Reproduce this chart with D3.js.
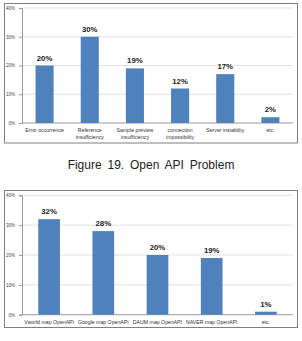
<!DOCTYPE html>
<html>
<head>
<meta charset="utf-8">
<script src="https://cdn.jsdelivr.net/npm/d3@7"></script>
<style>
  body { margin: 0; background: #fff; }
  svg { display: block; }
</style>
</head>
<body>
<div id="chart"></div>
<script>
// chart 1: open API problems
const problemCategories = [["Error occurrence"], ["Reference", "insufficiency"], ["Sample preview", "insufficiency"], ["connection", "impossibility"], ["Server instability"], ["etc."]];
const problemValues = [20, 30, 19, 12, 17, 2];

// chart 2: open API used
const apiCategories = [["Vworld map OpenAPI"], ["Google map OpenAPI"], ["DAUM map OpenAPI"], ["NAVER map OpenAPI"], ["etc."]];
const apiValues = [32, 28, 20, 19, 1];

const yTicks = [0, 10, 20, 30, 40];
const caption = "Figure 19. Open API Problem";

const barColor = "#4F81BD";

const svg = d3.select("#chart")
    .append("svg")
    .attr("width", 302)
    .attr("height", 341);

function drawChart(cfg) {
    const g = svg.append("g");

    // outer frame
    g.append("rect")
        .attr("x", cfg.box.x)
        .attr("y", cfg.box.y)
        .attr("width", cfg.box.w)
        .attr("height", cfg.box.h)
        .attr("fill", "#fff")
        .attr("stroke", "#7f7f7f")
        .attr("stroke-width", 1);

    const x = d3.scaleBand()
        .domain(d3.range(cfg.values.length))
        .range([cfg.left, cfg.right])
        .padding(cfg.pad);
    x.paddingOuter(cfg.pad / 2);

    const y = d3.scaleLinear()
        .domain([0, 40])
        .range([cfg.bottom, cfg.top]);

    // gridlines
    g.selectAll(".grid")
        .data(yTicks.filter(t => t > 0))
        .enter()
        .append("line")
        .attr("x1", cfg.left)
        .attr("x2", cfg.right)
        .attr("y1", d => y(d))
        .attr("y2", d => y(d))
        .attr("stroke", "#d9d9d9")
        .attr("stroke-width", 0.8);

    // y axis
    const yAxis = g.append("g")
        .attr("transform", `translate(${cfg.left},0)`)
        .call(d3.axisLeft(y).tickValues(yTicks).tickFormat(d => d + "%").tickSize(3).tickPadding(4));
    yAxis.select(".domain").attr("stroke", "#999");
    yAxis.selectAll(".tick line").attr("stroke", "#999");
    yAxis.selectAll("text")
        .attr("font-family", "Liberation Sans, Arial, sans-serif")
        .attr("font-size", 4.5)
        .attr("fill", "#444");

    // x axis
    g.append("line")
        .attr("x1", cfg.left)
        .attr("x2", cfg.right)
        .attr("y1", cfg.bottom)
        .attr("y2", cfg.bottom)
        .attr("stroke", "#999");

    // bars
    g.selectAll(".bar")
        .data(cfg.values)
        .enter()
        .append("rect")
        .attr("x", (d, i) => x(i))
        .attr("y", d => y(d))
        .attr("width", x.bandwidth())
        .attr("height", d => cfg.bottom - y(d))
        .attr("fill", barColor);

    // value labels
    g.selectAll(".val")
        .data(cfg.values)
        .enter()
        .append("text")
        .attr("x", (d, i) => x(i) + x.bandwidth() / 2)
        .attr("y", d => y(d) - 5)
        .attr("text-anchor", "middle")
        .attr("font-family", "Liberation Sans, Arial, sans-serif")
        .attr("font-weight", "bold")
        .attr("font-size", 7.8)
        .attr("fill", "#222")
        .text(d => d + "%");

    // category labels
    const cats = g.selectAll(".cat")
        .data(cfg.categories)
        .enter()
        .append("text")
        .attr("x", (d, i) => x(i) + x.bandwidth() / 2)
        .attr("y", cfg.bottom + 9)
        .attr("text-anchor", "middle")
        .attr("font-family", "Liberation Sans, Arial, sans-serif")
        .attr("font-size", cfg.catSize)
        .attr("fill", "#333");
    cats.each(function (d) {
        const t = d3.select(this);
        d.forEach((line, j) => {
            t.append("tspan")
                .attr("x", t.attr("x"))
                .attr("dy", j === 0 ? 0 : 6.5)
                .text(line);
        });
    });
}

drawChart({
    box: { x: 4.5, y: 3.5, w: 293, h: 139.5 },
    left: 22, right: 293, top: 8, bottom: 123,
    pad: 0.6,
    values: problemValues,
    categories: problemCategories,
    catSize: 5.2
});

drawChart({
    box: { x: 4.5, y: 190.5, w: 293, h: 137 },
    left: 22, right: 293, top: 195.3, bottom: 314.7,
    pad: 0.6,
    values: apiValues,
    categories: apiCategories,
    catSize: 5.2
});

svg.append("text")
    .attr("x", 151)
    .attr("y", 169)
    .attr("text-anchor", "middle")
    .attr("font-family", "Liberation Sans, Arial, sans-serif")
    .attr("font-size", 12)
    .attr("word-spacing", 2.5)
    .attr("fill", "#222")
    .text(caption);
</script>
</body>
</html>
